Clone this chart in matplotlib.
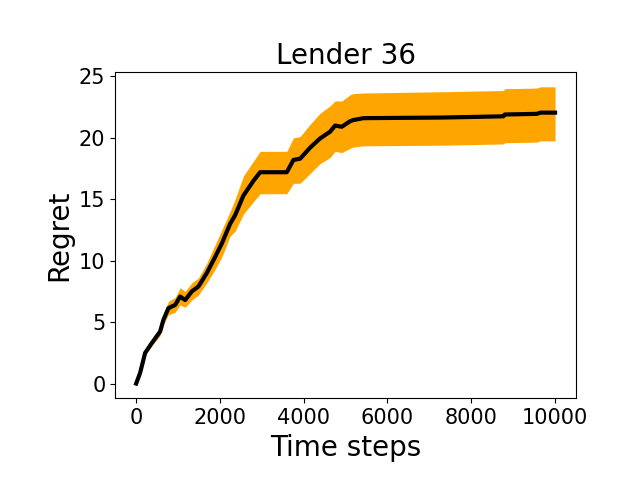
import matplotlib
matplotlib.use('Agg')
import matplotlib.pyplot as plt

# 读图得到的数值
steps = [0, 95, 215, 375, 573, 652, 771, 931, 1050, 1170, 1329, 1487, 1687, 1885,
         2045, 2243, 2363, 2561, 2800, 2960, 3596, 3755, 3914, 4153, 4391, 4630,
         4750, 4909, 5107, 5186, 5425, 7300, 8767, 8800, 9563, 9650, 10000]
regret_mean = [0.0, 0.87, 2.5, 3.3, 4.24, 5.2, 6.14, 6.4, 7.08, 6.8, 7.5, 7.9, 9.0, 10.3,
               11.4, 13.0, 13.7, 15.3, 16.5, 17.2, 17.2, 18.2, 18.3, 19.2, 19.95, 20.5,
               21.0, 20.9, 21.35, 21.45, 21.6, 21.65, 21.75, 21.9, 21.95, 22.05, 22.05]
regret_low = [0.0, 0.75, 2.3, 3.1, 3.9, 4.8, 5.6, 5.8, 6.4, 6.2, 6.8, 7.2, 8.2, 9.3,
              10.3, 12.0, 12.4, 13.8, 14.8, 15.45, 15.45, 16.3, 16.3, 17.1, 17.9, 18.4,
              18.9, 18.8, 19.15, 19.25, 19.35, 19.4, 19.5, 19.6, 19.65, 19.75, 19.75]
regret_high = [0.0, 1.0, 2.7, 3.5, 4.6, 5.6, 6.7, 7.0, 7.8, 7.5, 8.2, 8.6, 9.8, 11.3,
               12.5, 14.0, 15.0, 16.9, 18.1, 18.9, 18.9, 20.0, 20.1, 21.1, 22.0, 22.6,
               23.0, 23.0, 23.5, 23.6, 23.65, 23.75, 23.85, 24.0, 24.05, 24.15, 24.15]

fig, ax = plt.subplots(figsize=(6.4, 4.8), dpi=100)
plt.subplots_adjust(left=0.18, bottom=0.17, top=0.85)

ax.fill_between(steps, regret_low, regret_high, color='orange', linewidth=0)
ax.plot(steps, regret_mean, color='black', linewidth=3)

ax.set_title("Lender 36", fontsize=20)
ax.set_xlabel("Time steps", fontsize=20)
ax.set_ylabel("Regret", fontsize=20)
ax.tick_params(labelsize=15)

plt.savefig("out.png")
